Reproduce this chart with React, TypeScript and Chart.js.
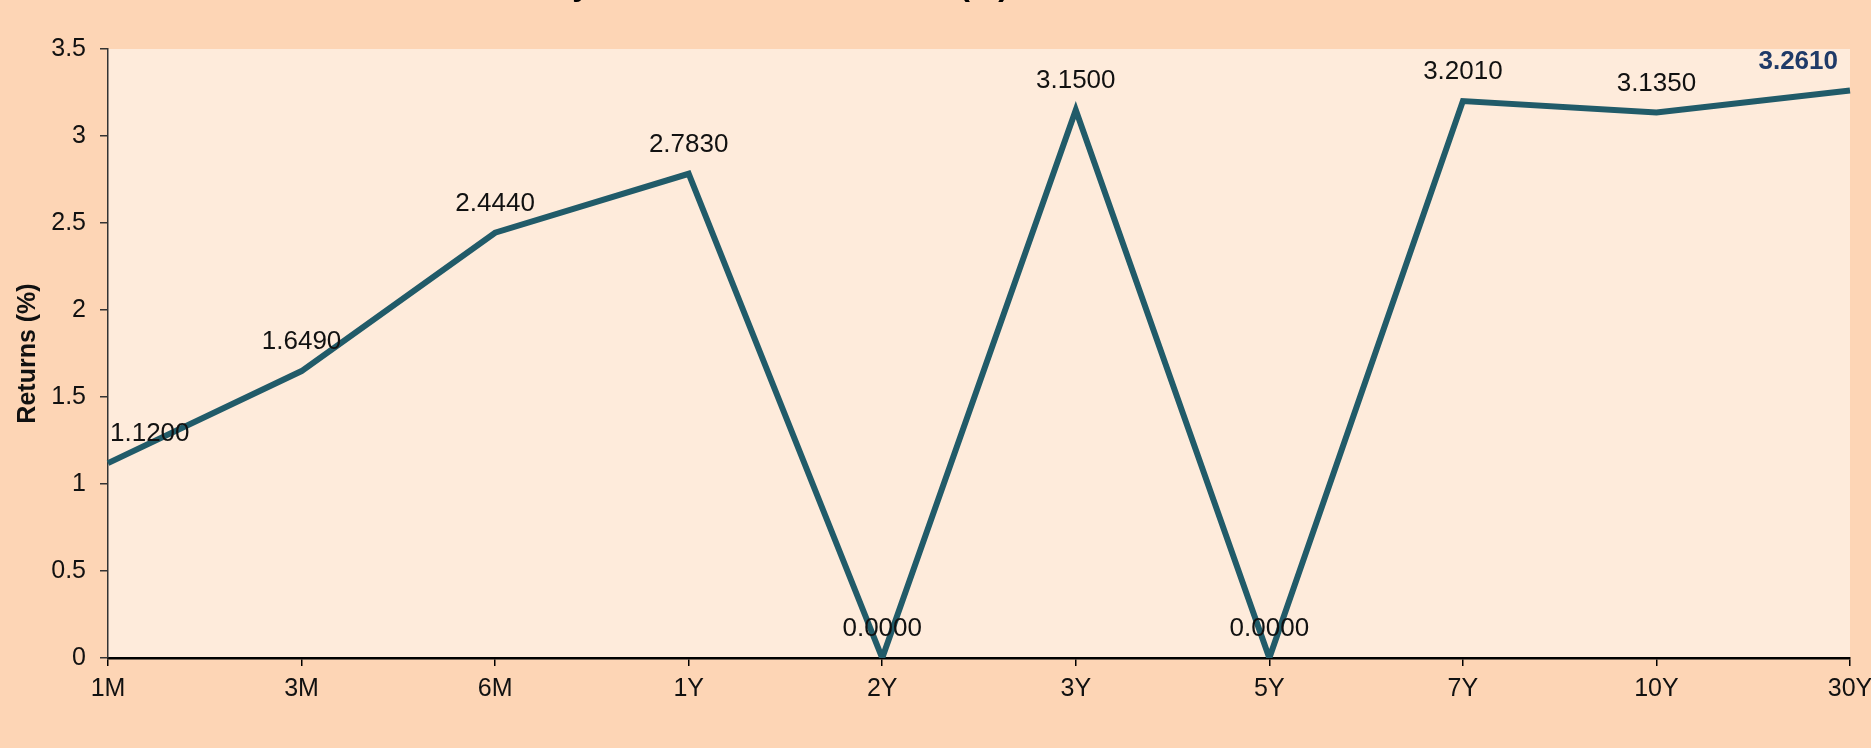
import React, { useEffect, useRef } from "react";
import { Chart, registerables } from "chart.js";

Chart.register(...registerables);

const tenors = ["1M", "3M", "6M", "1Y", "2Y", "3Y", "5Y", "7Y", "10Y", "30Y"];
const returnsPct = [1.12, 1.649, 2.444, 2.783, 0.0, 3.15, 0.0, 3.201, 3.135, 3.261];
const yTickLabels = ["0", "0.5", "1", "1.5", "2", "2.5", "3", "3.5"];
const titleText = "Monthly Returns Across Tenors (%)";
const yAxisTitle = "Returns (%)";

const FONT = "'Liberation Sans', Arial, Helvetica, sans-serif";
const OUTER_BG = "#FDD5B5";
const PLOT_BG = "#FEEBDB";
const LINE_COLOR = "#215B69";

const bgPlugin = {
  id: "bgPlugin",
  beforeDraw(chart: any) {
    const { ctx, chartArea, width, height } = chart;
    ctx.save();
    ctx.fillStyle = OUTER_BG;
    ctx.fillRect(0, 0, width, height);
    ctx.fillStyle = PLOT_BG;
    ctx.fillRect(chartArea.left, chartArea.top, chartArea.right - chartArea.left, chartArea.bottom - chartArea.top);
    ctx.restore();
  },
};

const titlePlugin = {
  id: "titlePlugin",
  afterDraw(chart: any) {
    const { ctx } = chart;
    ctx.save();
    ctx.font = `bold 32px ${FONT}`;
    ctx.fillStyle = "#000000";
    ctx.textAlign = "right";
    ctx.textBaseline = "alphabetic";
    ctx.fillText(titleText, 1009, -5);
    ctx.restore();
  },
};

const labelPlugin = {
  id: "labelPlugin",
  afterDatasetsDraw(chart: any) {
    const { ctx, chartArea } = chart;
    const meta = chart.getDatasetMeta(0);
    const data = chart.data.datasets[0].data as number[];
    ctx.save();
    meta.data.forEach((pt: any, i: number) => {
      const isLast = i === data.length - 1;
      const text = Number(data[i]).toFixed(4);
      ctx.font = `${isLast ? "bold " : ""}26px ${FONT}`;
      ctx.fillStyle = isLast ? "#1F3A68" : "#111111";
      const w = ctx.measureText(text).width;
      let cx = pt.x;
      cx = Math.max(cx, chartArea.left + 2 + w / 2);
      cx = Math.min(cx, chartArea.right - 12 - w / 2);
      ctx.textAlign = "center";
      ctx.textBaseline = "middle";
      ctx.fillText(text, cx, pt.y - 29);
    });
    ctx.restore();
  },
};

export default function App() {
  const canvasRef = useRef<HTMLCanvasElement | null>(null);

  useEffect(() => {
    document.body.style.margin = "0";
    document.body.style.background = OUTER_BG;
    const canvas = canvasRef.current;
    if (!canvas) return;
    const chart = new Chart(canvas, {
      type: "line",
      data: {
        labels: tenors,
        datasets: [
          {
            data: returnsPct,
            borderColor: LINE_COLOR,
            borderWidth: 6,
            pointRadius: 0,
            pointHoverRadius: 0,
            tension: 0,
            fill: false,
            borderJoinStyle: "miter",
          },
        ],
      },
      options: {
        responsive: false,
        animation: false,
        devicePixelRatio: 1,
        layout: { padding: { top: 49, left: 8, right: 21, bottom: 36 } },
        plugins: {
          legend: { display: false },
          tooltip: { enabled: false },
          title: { display: false },
        },
        scales: {
          x: {
            type: "category",
            offset: false,
            afterFit: (scale: any) => {
              scale.paddingRight = 0;
              scale.paddingLeft = 0;
            },
            grid: {
              display: true,
              drawOnChartArea: false,
              drawTicks: true,
              tickLength: 8,
              color: "#000000",
              lineWidth: 1.5,
            },
            border: { display: true, color: "#000000", width: 2.5 },
            ticks: {
              color: "#111111",
              font: { family: FONT, size: 25 },
              padding: 8,
              maxRotation: 0,
              autoSkip: false,
            },
          },
          y: {
            min: 0,
            max: 3.5,
            afterFit: (scale: any) => {
              scale.width = 100;
            },
            grid: {
              display: true,
              drawOnChartArea: false,
              drawTicks: true,
              tickLength: 8,
              color: "#333333",
              lineWidth: 1.5,
            },
            border: { display: true, color: "#333333", width: 1.5 },
            ticks: {
              stepSize: 0.5,
              color: "#111111",
              font: { family: FONT, size: 25 },
              padding: 14,
              callback: (_v: any, index: number) => yTickLabels[index],
            },
            title: {
              display: true,
              text: yAxisTitle,
              color: "#111111",
              font: { family: FONT, size: 25, weight: "bold" },
              padding: { top: 5, bottom: 0 },
            },
          },
        },
      },
      plugins: [bgPlugin, labelPlugin, titlePlugin],
    });
    return () => chart.destroy();
  }, []);

  return (
    <div style={{ width: 1871, height: 748, background: OUTER_BG }}>
      <canvas ref={canvasRef} width={1871} height={748} style={{ display: "block" }} />
    </div>
  );
}
